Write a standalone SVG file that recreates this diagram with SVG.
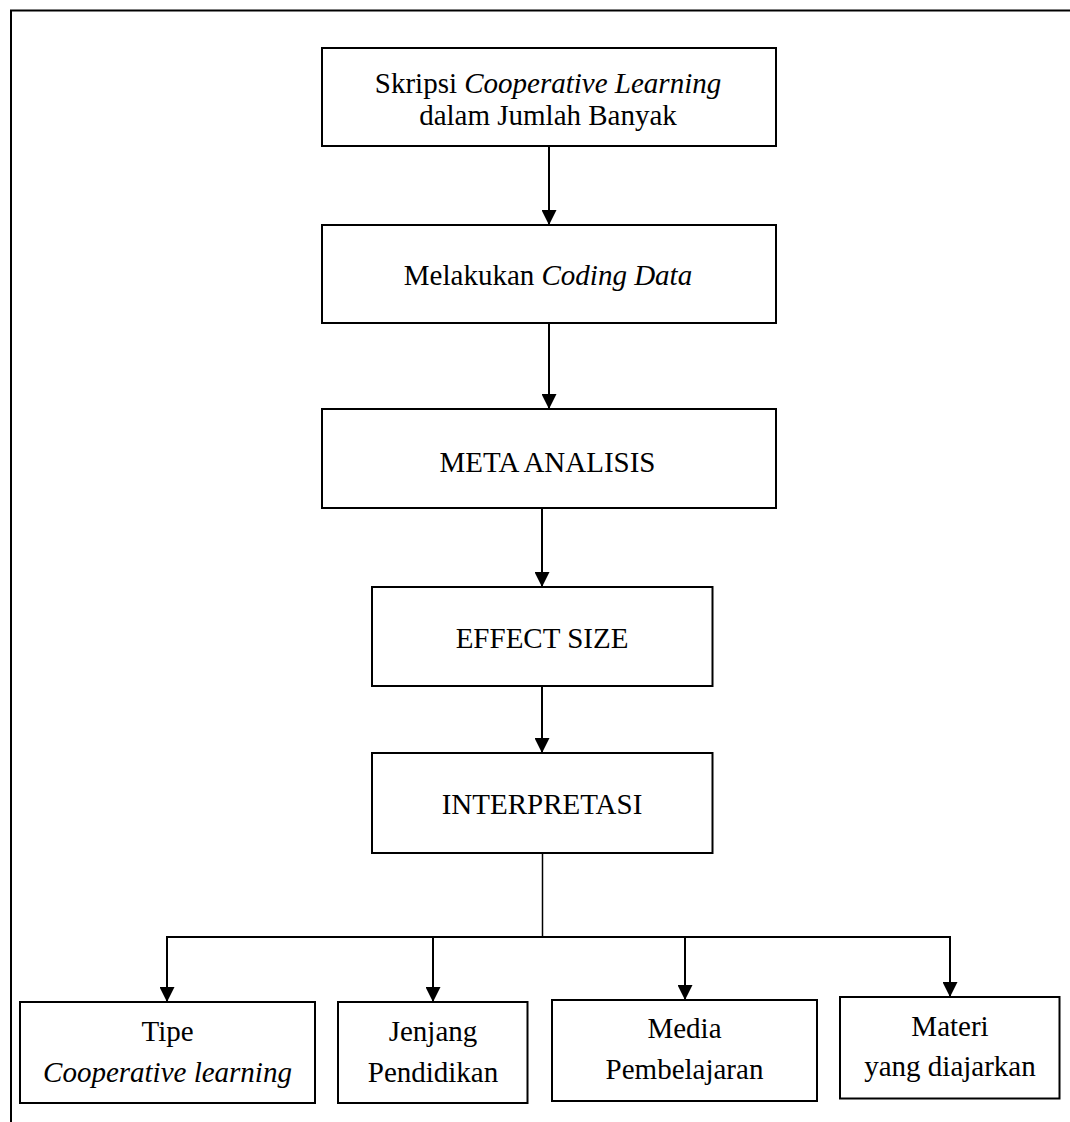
<svg xmlns="http://www.w3.org/2000/svg" width="1070" height="1122" viewBox="0 0 1070 1122">
<style>
.box{fill:#fff;stroke:#000;stroke-width:2}
.t{font-family:"Liberation Serif","Times New Roman",serif;font-size:29px;fill:#000;text-anchor:middle}
.i{font-style:italic}
.c{stroke:#000;stroke-width:2;fill:none}
</style>
<defs>
<marker id="ah" markerUnits="userSpaceOnUse" markerWidth="15" markerHeight="15" refX="15" refY="7.5" orient="auto" viewBox="0 0 15 15">
<path d="M0,0 L15,7.5 L0,15 z" fill="#000"/>
</marker>
</defs>
<rect width="1070" height="1122" fill="#fff"/>
<g id="frame" class="c">
<path d="M1070,10.5 H11 V1122"/>
</g>
<g id="connectors">
<line class="c" x1="549" y1="146" x2="549" y2="225" marker-end="url(#ah)"/>
<line class="c" x1="549" y1="323" x2="549" y2="409" marker-end="url(#ah)"/>
<line class="c" x1="542" y1="508" x2="542" y2="587" marker-end="url(#ah)"/>
<line class="c" x1="542" y1="686" x2="542" y2="753" marker-end="url(#ah)"/>
<line class="c" x1="542.5" y1="853" x2="542.5" y2="937" style="stroke-width:1.5"/>
<line class="c" x1="166" y1="937" x2="951" y2="937"/>
<line class="c" x1="167" y1="937" x2="167" y2="1002" marker-end="url(#ah)"/>
<line class="c" x1="433" y1="937" x2="433" y2="1002" marker-end="url(#ah)"/>
<line class="c" x1="685" y1="937" x2="685" y2="1000" marker-end="url(#ah)"/>
<line class="c" x1="950" y1="937" x2="950" y2="997" marker-end="url(#ah)"/>
</g>
<g id="n1">
<rect class="box" x="322" y="48" width="454" height="98"/>
<text class="t" x="548" y="93">Skripsi <tspan class="i">Cooperative Learning</tspan></text>
<text class="t" x="548" y="125">dalam Jumlah Banyak</text>
</g>
<g id="n2">
<rect class="box" x="322" y="225" width="454" height="98"/>
<text class="t" x="548" y="285">Melakukan <tspan class="i">Coding Data</tspan></text>
</g>
<g id="n3">
<rect class="box" x="322" y="409" width="454" height="99"/>
<text class="t" x="547.5" y="472">META ANALISIS</text>
</g>
<g id="n4">
<rect class="box" x="372" y="587" width="340.5" height="99"/>
<text class="t" x="542" y="648">EFFECT SIZE</text>
</g>
<g id="n5">
<rect class="box" x="372" y="753" width="340.5" height="100"/>
<text class="t" x="542" y="814">INTERPRETASI</text>
</g>
<g id="n6">
<rect class="box" x="20" y="1002" width="295" height="101"/>
<text class="t" x="167.5" y="1041">Tipe</text>
<text class="t i" x="167.5" y="1082">Cooperative learning</text>
</g>
<g id="n7">
<rect class="box" x="338" y="1002" width="189.5" height="101"/>
<text class="t" x="433" y="1041">Jenjang</text>
<text class="t" x="433" y="1082">Pendidikan</text>
</g>
<g id="n8">
<rect class="box" x="552" y="1000" width="265" height="101"/>
<text class="t" x="684.5" y="1037.5">Media</text>
<text class="t" x="684.5" y="1079">Pembelajaran</text>
</g>
<g id="n9">
<rect class="box" x="840" y="997" width="219.5" height="101.5"/>
<text class="t" x="950" y="1036">Materi</text>
<text class="t" x="950" y="1076">yang diajarkan</text>
</g>
</svg>
